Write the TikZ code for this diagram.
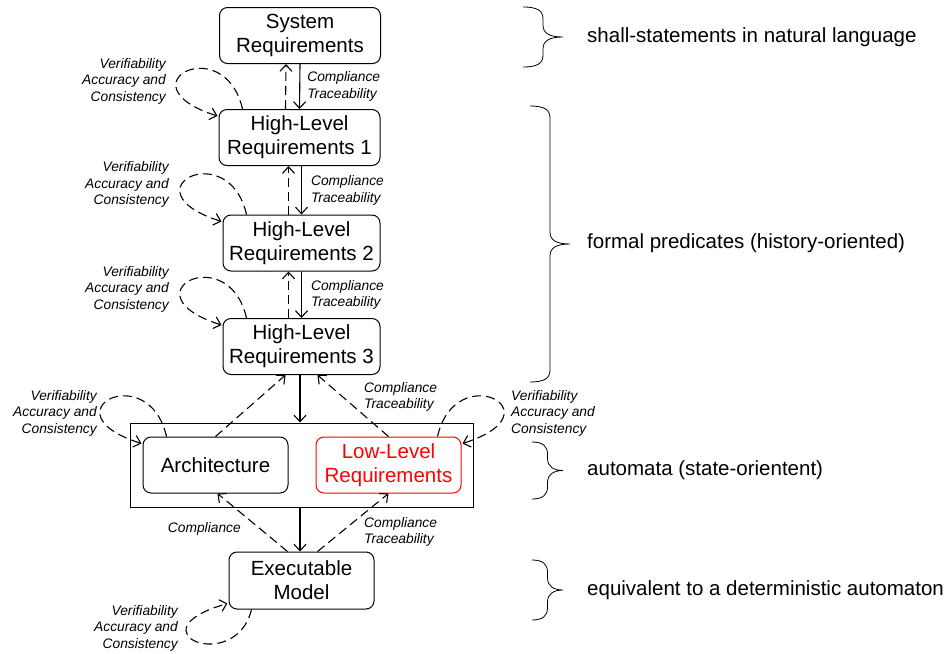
\documentclass[tikz,border=0pt]{standalone}
\usepackage{fontspec}
\setmainfont[Ligatures=NoCommon]{Liberation Sans}
\usetikzlibrary{arrows.meta}

% curly brace opening to the right: tip x, top y, bottom y, depth
\newcommand{\sidebrace}[4]{%
  \draw[line width=0.8pt] (#1-#4,#2) .. controls (#1-#4/2-5,#2) and (#1-#4/2,#2+4) .. (#1-#4/2,#2+12)
    -- (#1-#4/2,{(#2+#3)/2-12}) .. controls (#1-#4/2,{(#2+#3)/2-4}) and (#1-#4/2+6,{(#2+#3)/2}) .. (#1,{(#2+#3)/2})
    .. controls (#1-#4/2+6,{(#2+#3)/2}) and (#1-#4/2,{(#2+#3)/2+4}) .. (#1-#4/2,{(#2+#3)/2+12})
    -- (#1-#4/2,#3-12) .. controls (#1-#4/2,#3-4) and (#1-#4/2-5,#3) .. (#1-#4,#3);
}

\begin{document}
\begin{tikzpicture}[x=1pt, y=-1pt,
    >={Straight Barb[length=6.5pt,width=12pt]},
    box/.style={draw, rounded corners=8pt, line width=1pt, align=center,
      font=\fontsize{20.5}{24}\selectfont, minimum height=56pt, inner sep=2pt},
    lab/.style={font=\fontsize{13.8}{16.5}\selectfont\itshape, inner sep=0pt},
    flow/.style={->, line width=1.1pt},
    check/.style={->, line width=1.1pt, dash pattern=on 9pt off 5pt},
    note/.style={anchor=west, font=\fontsize{20.5}{24}\selectfont, inner sep=0pt}]
        \useasboundingbox (0,0) rectangle (950,653);

        % Poziomy wymagan
        \node[box, minimum width=161pt] (sys) at (300,35.5) {System\\Requirements};
        \node[box, minimum width=161pt] (h1) at (299.5,137.5) {High-Level\\Requirements 1};
        \node[box, minimum width=157pt] (h2) at (301.5,243) {High-Level\\Requirements 2};
        \node[box, minimum width=157pt] (h3) at (301.5,346.5) {High-Level\\Requirements 3};

        % Projekt
        \node[draw, line width=1pt, minimum width=343pt, minimum height=84pt] (grp) at (301.5,465) {};
        \node[box, minimum width=145pt] (arch) at (215.5,465) {Architecture};
        \node[box, minimum width=145pt, red] (llr) at (388.5,465) {Low-Level\\Requirements};
        \node[box, minimum width=145pt, minimum height=57pt] (exec) at (301.5,580.5) {Executable\\Model};

        % Zgodnosc i sledzenie
        \draw[flow] (sys.south) -- (h1.north) node[lab, midway, right, align=left, xshift=7pt] (t1) {Compliance\\Traceability};
        \draw[check] ([xshift=-14pt]h1.north) -- ([xshift=-14pt]sys.south);
        \draw[flow] ([xshift=2pt]h1.south) -- (h2.north) node[lab, midway, right, align=left, xshift=9pt] (t2) {Compliance\\Traceability};
        \draw[check] ([xshift=-13pt]h2.north) -- ([xshift=-11pt]h1.south);
        \draw[flow] (h2.south) -- (h3.north) node[lab, midway, right, align=left, xshift=9pt] (t3) {Compliance\\Traceability};
        \draw[check] ([xshift=-13pt]h3.north) -- ([xshift=-13pt]h2.south);

        \draw[flow] ([xshift=-1.5pt]h3.south) -- ([xshift=-1.5pt]grp.north);
        \draw[check] (arch.north) -- ([xshift=-16pt]h3.south);
        \draw[check] (llr.north) -- ([xshift=16pt]h3.south);
        \node[lab, anchor=west, align=left] (t4) at (364,397) {Compliance\\Traceability};

        \draw[flow] ([xshift=-1.5pt]grp.south) -- ([xshift=-1.5pt]exec.north);
        \draw[check] ([xshift=-14pt]exec.north) -- ([xshift=2pt]arch.south);
        \draw[check] ([xshift=16pt]exec.north) -- (llr.south);
        \node[lab, anchor=east] (t5) at (241,529) {Compliance};
        \node[lab, anchor=west, align=left] (t6) at (364,532) {Compliance\\Traceability};

        % Weryfikowalnosc
        \draw[check] ([shift={(24,0)}]h1.north west) .. controls +(-18,-79) and +(-98,-31) .. ([shift={(-1,7)}]h1.north west);
        \node[lab, anchor=east, align=right] (v1) at (166,81) {Verifiability\\Accuracy and\\Consistency};
        \draw[check] ([shift={(24,0)}]h2.north west) .. controls +(-18,-79) and +(-98,-31) .. ([shift={(-1,7)}]h2.north west);
        \node[lab, anchor=east, align=right] (v2) at (169,184.5) {Verifiability\\Accuracy and\\Consistency};
        \draw[check] ([shift={(24,0)}]h3.north west) .. controls +(-18,-79) and +(-98,-31) .. ([shift={(-1,7)}]h3.north west);
        \node[lab, anchor=east, align=right] (v3) at (169,289) {Verifiability\\Accuracy and\\Consistency};
        \draw[check] ([shift={(24,0)}]arch.north west) .. controls +(-18,-79) and +(-98,-31) .. ([shift={(-1,7)}]arch.north west);
        \node[lab, anchor=east, align=right] (v4) at (97,413) {Verifiability\\Accuracy and\\Consistency};
        \draw[check] ([shift={(-24,0)}]llr.north east) .. controls +(18,-79) and +(98,-31) .. ([shift={(1,7)}]llr.north east);
        \node[lab, anchor=west, align=left] (v5) at (511,413) {Verifiability\\Accuracy and\\Consistency};
        \draw[check] ([shift={(23,0)}]exec.south west) .. controls +(-16,66) and +(-98,28) .. ([shift={(-1,-6)}]exec.south west);
        \node[lab, anchor=east, align=right] (v6) at (178,628) {Verifiability\\Accuracy and\\Consistency};

        % Klamry i opisy
        \sidebrace{563}{7}{67}{40}
        \node[note] (n1) at (587,37) {shall-statements in natural language};
        \sidebrace{570}{106}{382}{40}
        \node[note] (n2) at (587,243) {formal predicates (history-oriented)};
        \sidebrace{563}{442}{499}{31}
        \node[note] (n3) at (587,470) {automata (state-orientent)};
        \sidebrace{563}{560}{620}{31}
        \node[note] (n4) at (587,590) {equivalent to a deterministic automaton};
    \end{tikzpicture}
\end{document}
